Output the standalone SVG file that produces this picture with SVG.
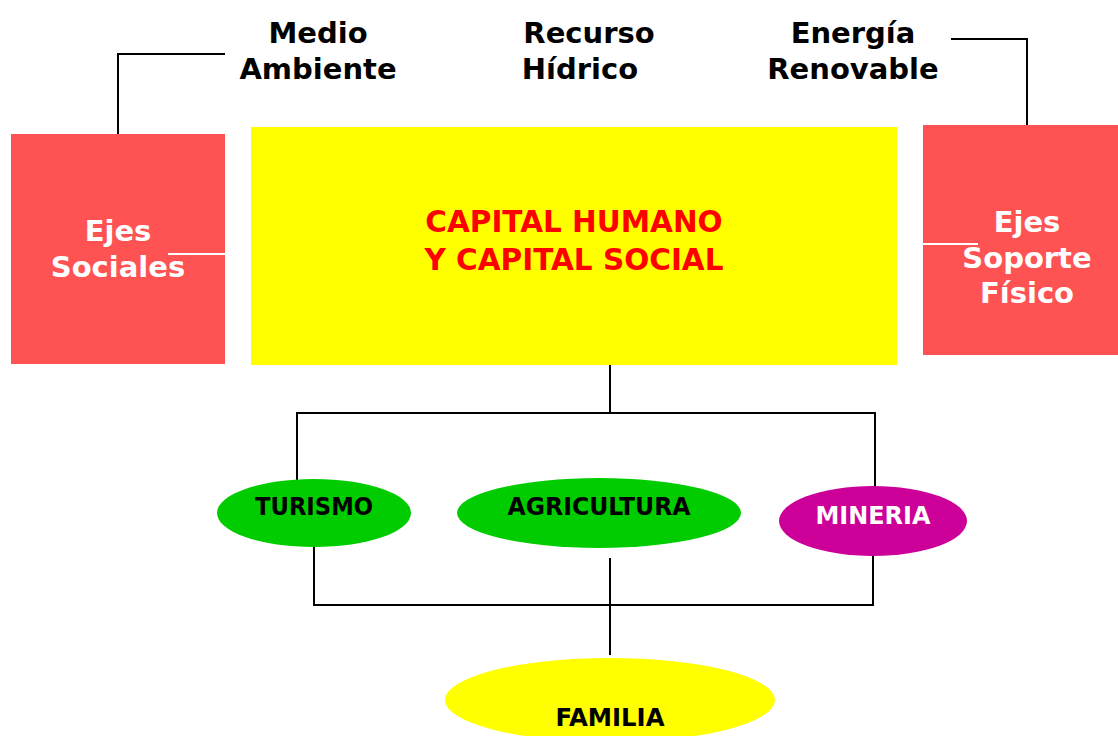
<svg xmlns="http://www.w3.org/2000/svg" width="1118" height="736" viewBox="0 0 1118 736">
<style>
.hdr{font-family:"DejaVu Sans","Verdana",sans-serif;font-weight:bold;font-size:29px;fill:#000;text-anchor:middle}
.box{fill:#FF5252}
.boxt{font-family:"DejaVu Sans",sans-serif;font-weight:bold;font-size:29px;fill:#fff;text-anchor:middle}
.cap{font-family:"DejaVu Sans",sans-serif;font-weight:bold;font-size:29.5px;fill:#FF0000;text-anchor:middle}
.lbl{font-family:"DejaVu Sans Condensed","DejaVu Sans",sans-serif;font-stretch:condensed;font-weight:bold;font-size:24px;text-anchor:middle}
.ln{stroke:#000;stroke-width:2;fill:none}
.wl{stroke:#fff;stroke-width:2;fill:none}
</style>
<rect width="1118" height="736" fill="#fff"/>
<g id="connectors">
<polyline class="ln" points="225,54 118,54 118,134"/>
<polyline class="ln" points="951,39 1027,39 1027,125"/>
<line class="ln" x1="610" y1="365" x2="610" y2="413"/>
<polyline class="ln" points="297,487 297,413 875,413 875,487"/>
<polyline class="ln" points="314,547 314,605 873,605 873,556"/>
<line class="ln" x1="610" y1="558" x2="610" y2="655"/>
</g>
<g id="medio-ambiente">
<text class="hdr" x="318" y="43">Medio</text>
<text class="hdr" x="318" y="79">Ambiente</text>
</g>
<g id="recurso-hidrico">
<text class="hdr" x="589" y="43">Recurso</text>
<text class="hdr" x="580" y="79">Hídrico</text>
</g>
<g id="energia-renovable">
<text class="hdr" x="853" y="43">Energía</text>
<text class="hdr" x="853" y="79">Renovable</text>
</g>
<g id="ejes-sociales">
<rect class="box" x="11" y="134" width="214" height="230"/>
<text class="boxt" x="118" y="241">Ejes</text>
<text class="boxt" x="118" y="277">Sociales</text>
<line class="wl" x1="168" y1="254" x2="225" y2="254"/>
</g>
<g id="capital">
<rect x="251" y="127" width="646" height="238" fill="#FFFF00"/>
<text class="cap" x="574" y="232">CAPITAL HUMANO</text>
<text class="cap" x="574" y="270">Y CAPITAL SOCIAL</text>
</g>
<g id="ejes-soporte">
<rect class="box" x="923" y="125" width="195" height="230"/>
<text class="boxt" x="1027" y="232">Ejes</text>
<text class="boxt" x="1027" y="268">Soporte</text>
<text class="boxt" x="1027" y="303">Físico</text>
<line class="wl" x1="923" y1="244" x2="978" y2="244"/>
</g>
<g id="turismo">
<ellipse cx="314" cy="513" rx="97" ry="34" fill="#00CC00"/>
<text class="lbl" x="314" y="515" fill="#000" textLength="118" lengthAdjust="spacingAndGlyphs">TURISMO</text>
</g>
<g id="agricultura">
<ellipse cx="599" cy="513" rx="142" ry="35" fill="#00CC00"/>
<text class="lbl" x="599" y="515" fill="#000" textLength="183" lengthAdjust="spacingAndGlyphs">AGRICULTURA</text>
</g>
<g id="mineria">
<ellipse cx="873" cy="521" rx="94" ry="35" fill="#CC0099"/>
<text class="lbl" x="873" y="524" fill="#fff" textLength="115" lengthAdjust="spacingAndGlyphs">MINERIA</text>
</g>
<g id="familia">
<ellipse cx="610" cy="700" rx="165" ry="42" fill="#FFFF00"/>
<text class="lbl" x="610" y="726" fill="#000" textLength="109" lengthAdjust="spacingAndGlyphs">FAMILIA</text>
</g>
</svg>
